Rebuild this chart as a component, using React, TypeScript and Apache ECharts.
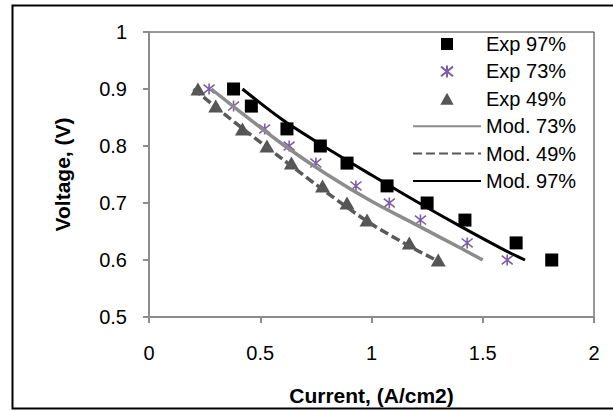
import React, { useEffect, useRef } from "react";
import * as echarts from "echarts";

// Measured polarisation points (current density A/cm2, cell voltage V)
const exp97Current = [0.38, 0.46, 0.62, 0.77, 0.89, 1.07, 1.25, 1.42, 1.65, 1.81];
const exp97Voltage = [0.9, 0.87, 0.83, 0.8, 0.77, 0.73, 0.7, 0.67, 0.63, 0.6];

const exp73Current = [0.27, 0.38, 0.52, 0.63, 0.75, 0.93, 1.08, 1.22, 1.43, 1.61];
const exp73Voltage = [0.9, 0.87, 0.83, 0.8, 0.77, 0.73, 0.7, 0.67, 0.63, 0.6];

const exp49Current = [0.22, 0.3, 0.42, 0.53, 0.64, 0.78, 0.89, 0.98, 1.17, 1.3];
const exp49Voltage = [0.9, 0.87, 0.83, 0.8, 0.77, 0.73, 0.7, 0.67, 0.63, 0.6];

// Model curves
const mod73Current = [0.28, 0.4, 0.6, 0.8, 1.0, 1.2, 1.4, 1.5];
const mod73Voltage = [0.9, 0.863, 0.803, 0.75, 0.703, 0.662, 0.621, 0.6];

const mod49Current = [0.2, 0.4, 0.6, 0.8, 1.0, 1.2, 1.29];
const mod49Voltage = [0.9, 0.837, 0.777, 0.718, 0.663, 0.618, 0.6];

const mod97Current = [0.42, 0.6, 0.8, 1.0, 1.2, 1.4, 1.6, 1.69];
const mod97Voltage = [0.9, 0.846, 0.796, 0.749, 0.703, 0.659, 0.617, 0.6];

const expNames = ["Exp 97%", "Exp 73%", "Exp 49%"];
const modNames = ["Mod. 73%", "Mod. 49%", "Mod. 97%"];

const pairs = (xs: number[], ys: number[]) => xs.map((x, i) => [x, ys[i]]);

const FONT = "'Liberation Sans', Arial, sans-serif";
const SQUARE = "path://M0,0H10V10H0Z";
const TRIANGLE = "path://M5,0L10,9L0,9Z";
const STAR = "path://M0,1L10,9M10,1L0,9M5,0L5,10";

export default function App() {
  const ref = useRef<HTMLDivElement>(null);

  useEffect(() => {
    if (!ref.current) return;
    const chart = echarts.init(ref.current, undefined, { renderer: "svg" });
    chart.setOption({
      animation: false,
      backgroundColor: "#ffffff",
      textStyle: { fontFamily: FONT },
      grid: {
        left: 149,
        right: 19,
        top: 32,
        bottom: 94,
        show: true,
        borderColor: "#333333",
        borderWidth: 1,
        backgroundColor: "transparent",
      },
      xAxis: {
        type: "value",
        min: 0,
        max: 2,
        interval: 0.5,
        name: "Current, (A/cm2)",
        nameLocation: "middle",
        nameGap: 68,
        nameTextStyle: { fontFamily: FONT, fontSize: 21, fontWeight: "bold", color: "#000" },
        axisLine: { show: true, lineStyle: { color: "#8c8c8c", width: 2 } },
        axisTick: { show: true, inside: false, length: 6, lineStyle: { color: "#8c8c8c", width: 2 } },
        axisLabel: { fontFamily: FONT, fontSize: 20, color: "#000", margin: 26 },
        splitLine: { show: false },
      },
      yAxis: {
        type: "value",
        min: 0.5,
        max: 1,
        interval: 0.1,
        name: "Voltage, (V)",
        nameLocation: "middle",
        nameRotate: 90,
        nameGap: 76,
        nameTextStyle: { fontFamily: FONT, fontSize: 21, fontWeight: "bold", color: "#000" },
        axisLine: { show: true, lineStyle: { color: "#8c8c8c", width: 2 } },
        axisTick: { show: true, inside: false, length: 6, lineStyle: { color: "#8c8c8c", width: 2 } },
        axisLabel: { fontFamily: FONT, fontSize: 20, color: "#000", margin: 22 },
        splitLine: { show: false },
      },
      legend: {
        data: [
          ...expNames.map((name) => ({ name })),
          ...modNames.map((name) => ({
            name,
            itemStyle: { color: "rgba(0,0,0,0)", borderWidth: 0, opacity: 0 },
          })),
        ],
        orient: "vertical",
        left: 412,
        top: 34,
        padding: 0,
        itemWidth: 68,
        itemHeight: 12,
        itemGap: 7.4,
        symbolKeepAspect: true,
        textStyle: { fontFamily: FONT, fontSize: 20, color: "#000" },
        selectedMode: false,
      },
      graphic: [
        {
          type: "rect",
          shape: { x: 12.5, y: 5.5, width: 640, height: 403 },
          style: { fill: "none", stroke: "#000", lineWidth: 2 },
          silent: true,
          z: 100,
        },
      ],
      series: [
        {
          name: "Exp 97%",
          type: "scatter",
          symbol: SQUARE,
          symbolSize: 13,
          itemStyle: { color: "#000000", opacity: 1 },
          data: pairs(exp97Current, exp97Voltage),
          z: 2,
        },
        {
          name: "Exp 73%",
          type: "scatter",
          symbol: STAR,
          symbolSize: 11,
          itemStyle: { color: "#7b5ea7", borderColor: "#7b5ea7", borderWidth: 1.6, opacity: 1 },
          data: pairs(exp73Current, exp73Voltage),
          z: 2,
        },
        {
          name: "Exp 49%",
          type: "scatter",
          symbol: TRIANGLE,
          symbolSize: [15, 13],
          itemStyle: { color: "#555555", opacity: 1 },
          data: pairs(exp49Current, exp49Voltage),
          z: 2,
        },
        {
          name: "Mod. 73%",
          type: "line",
          symbol: "none",
          smooth: 0.3,
          lineStyle: { color: "#8c8c8c", width: 3.5 },
          itemStyle: { color: "#8c8c8c" },
          data: pairs(mod73Current, mod73Voltage),
          z: 3,
        },
        {
          name: "Mod. 49%",
          type: "line",
          symbol: "none",
          smooth: 0.3,
          lineStyle: { color: "#595959", width: 3.5, type: [9, 4] },
          itemStyle: { color: "#595959" },
          data: pairs(mod49Current, mod49Voltage),
          z: 3,
        },
        {
          name: "Mod. 97%",
          type: "line",
          symbol: "none",
          smooth: 0.3,
          lineStyle: { color: "#000000", width: 3 },
          itemStyle: { color: "#000000" },
          data: pairs(mod97Current, mod97Voltage),
          z: 3,
        },
      ],
    });
    return () => chart.dispose();
  }, []);

  return (
    <div
      ref={ref}
      style={{ position: "fixed", left: 0, top: 0, width: 613, height: 411, background: "#fff" }}
    />
  );
}
